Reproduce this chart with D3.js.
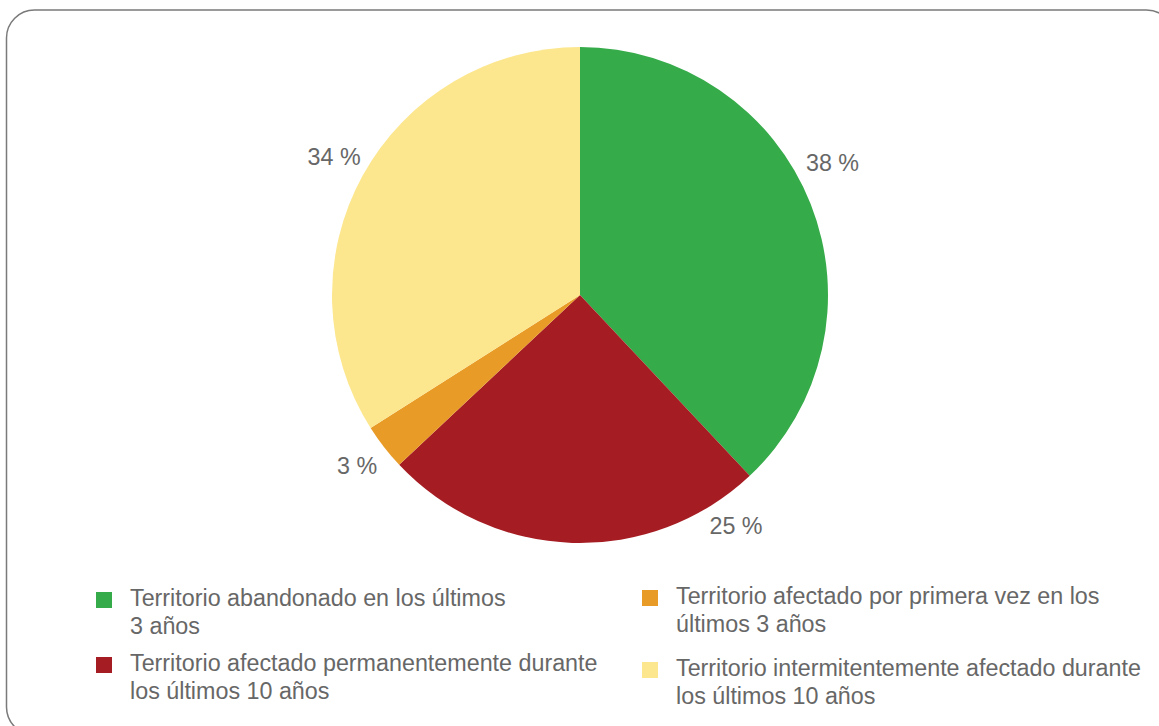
<!DOCTYPE html>
<html><head><meta charset="utf-8">
<script src="https://cdn.jsdelivr.net/npm/d3@7"></script>
<style>html,body{margin:0;padding:0;background:#fff;overflow:hidden}</style>
</head><body>
<svg id="chart" width="1159" height="726"></svg>
<script>
const categories = [
  "Territorio abandonado en los últimos 3 años",
  "Territorio afectado permanentemente durante los últimos 10 años",
  "Territorio afectado por primera vez en los últimos 3 años",
  "Territorio intermitentemente afectado durante los últimos 10 años"
];
const values = [38, 25, 3, 34];
const valueLabels = ["38 %", "25 %", "3 %", "34 %"];
const legendLines = [
  ["Territorio abandonado en los últimos", "3 años"],
  ["Territorio afectado permanentemente durante", "los últimos 10 años"],
  ["Territorio afectado por primera vez en los", "últimos 3 años"],
  ["Territorio intermitentemente afectado durante", "los últimos 10 años"]
];
const colors = ["#36ab4a", "#a51c22", "#e89b27", "#fce68e"];

const svg = d3.select("#chart");
const font = "'Liberation Sans', Arial, sans-serif";
const textColor = "#676767";

svg.append("rect").attr("x", 6.5).attr("y", 10).attr("width", 1168).attr("height", 725)
  .attr("rx", 28).attr("ry", 28).attr("fill", "none").attr("stroke", "#7a7a7a").attr("stroke-width", 1.5);

const cx = 580, cy = 295, r = 248;
const color = d3.scaleOrdinal().domain(categories).range(colors);
const pie = d3.pie().sort(null).value(d => d.v);
const data = categories.map((c, i) => ({c, v: values[i], l: valueLabels[i]}));
const arcs = pie(data);
const arc = d3.arc().innerRadius(0).outerRadius(r);
const g = svg.append("g").attr("transform", `translate(${cx},${cy})`);
g.selectAll("path").data(arcs).enter().append("path")
  .attr("d", arc).attr("fill", d => color(d.data.c));

// value labels, outside the pie (angular shift from slice middle, radial distance)
const angShift = [-0.105, -0.625, 0.005, 0.009];
const radDist = [r + 37, r + 31, r + 33, r + 34];
g.selectAll("text.lbl").data(arcs).enter().append("text")
  .attr("class", "lbl")
  .each(function(d, i) {
    const ang = (d.startAngle + d.endAngle) / 2 + angShift[i];
    const rr = radDist[i];
    d3.select(this).attr("x", rr * Math.sin(ang)).attr("y", -rr * Math.cos(ang));
  })
  .attr("text-anchor", "middle").attr("dominant-baseline", "central")
  .attr("font-family", font).attr("font-size", 23.3).attr("fill", textColor)
  .text(d => d.data.l);

// legend
const legendPos = [[96, 592], [96, 657], [642, 590], [642, 662]];
const leg = svg.append("g");
categories.forEach((c, i) => {
  const [x, y] = legendPos[i];
  leg.append("rect").attr("x", x).attr("y", y).attr("width", 16).attr("height", 16).attr("fill", color(c));
  const t = leg.append("text").attr("x", x + 34).attr("y", y + 14)
    .attr("font-family", font).attr("font-size", 23.3).attr("fill", textColor);
  legendLines[i].forEach((line, j) => {
    t.append("tspan").attr("x", x + 34).attr("dy", j === 0 ? 0 : 28).text(line);
  });
});
</script>
</body></html>
